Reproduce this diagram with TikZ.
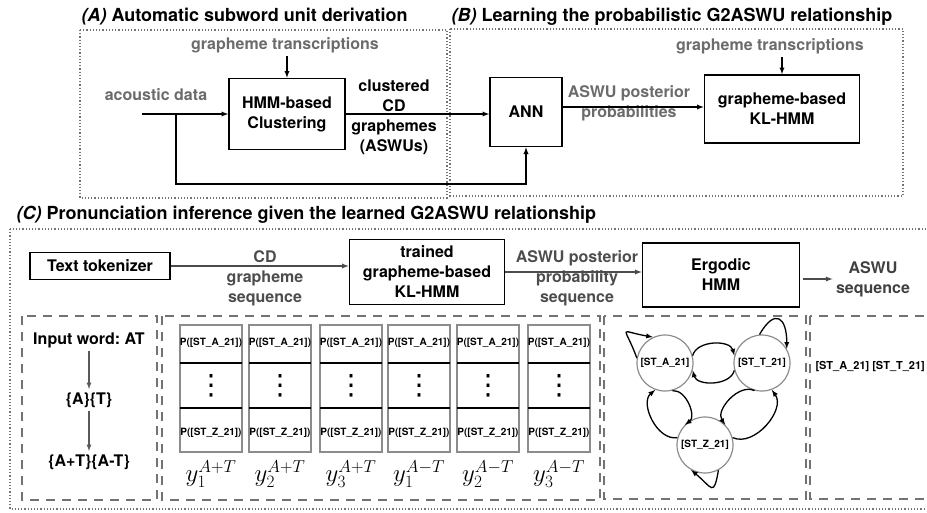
\documentclass[tikz,border=0pt]{standalone}
\usepackage{fontspec}
\setmainfont{TeX Gyre Heros}
\newfontfamily\dotsfont{DejaVu Sans}
\usetikzlibrary{arrows}
\usetikzlibrary{positioning}
\frenchspacing

\newcommand\txtbig{\fontsize{16}{20}\selectfont\bfseries}
\newcommand\txttitle{\fontsize{18}{22}\selectfont\bfseries}
\newcommand\txtsmall{\fontsize{10}{12}\selectfont\bfseries}
\definecolor{labgray}{gray}{0.42}
\definecolor{framegray}{gray}{0.45}

\begin{document}
\begin{tikzpicture}[x=1pt, y=-1pt, >=latex,
	blk/.style={draw, line width=1.6pt, font=\txtbig, align=center, inner sep=0pt},
	lab/.style={font=\txtbig, align=center, text=labgray},
	conn/.style={->, line width=1.3pt},
	dotbox/.style={draw=framegray, dotted, line width=1.2pt},
	dashbox/.style={draw=framegray, dash pattern=on 9pt off 7pt, line width=1.2pt},
	colbox/.style={draw=black!45, line width=1.2pt},
	hmmstate/.style={circle, draw=black!45, line width=1.2pt, minimum size=56pt, inner sep=0pt, font=\txtsmall}
]
	\useasboundingbox (0,0) rectangle (927,512);

	% (A) subword unit derivation
	\node[anchor=west, font=\txttitle] (ttla) at (78,17) {\textit{(A)} Automatic subword unit derivation};
	\draw[dotbox] (80,30) rectangle (447,198);
	\node[blk, minimum width=116pt, minimum height=71pt] (hmm) at (287,114) {HMM-based\\Clustering};
	\node[lab] (gta) at (285,45) {grapheme transcriptions};
	\draw[conn] (gta.south -| hmm.north) -- (hmm.north);
	\node[lab] (acd) at (156,95) {acoustic data};
	\coordinate (acin) at (142,114);
	\coordinate (split) at (176,114);
	\draw[conn] (acin) -- (hmm.west);
	\node[font=\txtbig, align=center] (clus) at (394,117) {clustered\\CD\\graphemes\\(ASWUs)};

	% (B) G2ASWU relationship
	\node[anchor=west, font=\txttitle] (ttlb) at (448,17) {\textit{(B)} Learning the probabilistic G2ASWU relationship};
	\draw[dotbox] (450,29) rectangle (903,196);
	\node[blk, minimum width=72pt, minimum height=69pt] (ann) at (526,112) {ANN};
	\node[blk, minimum width=155pt, minimum height=68pt] (kl) at (782,109) {grapheme-based\\KL-HMM};
	\node[lab] (gtb) at (770,46) {grapheme transcriptions};
	\draw[conn] (gtb.south -| kl.north) -- (kl.north);
	\node[lab] (post) at (629,103) {ASWU posterior\\probabilities};
	\draw[conn] (hmm.east) -- (hmm.east -| ann.west);
	\draw[conn] (split) -- ++(0,70) -| (ann.south);
	\draw[conn] ([yshift=5pt]ann.east) -- ([yshift=5pt]ann.east -| kl.west);

	% (C) pronunciation inference
	\node[anchor=west, font=\txttitle] (ttlc) at (13,215) {\textit{(C)} Pronunciation inference given the learned G2ASWU relationship};
	\draw[dotbox] (10,229) rectangle (940,509);
	\node[blk, minimum width=140pt, minimum height=27pt] (tok) at (100,266) {Text tokenizer};
	\node[blk, minimum width=155pt, minimum height=65pt] (trn) at (427,272) {trained\\grapheme-based\\KL-HMM};
	\node[blk, minimum width=157pt, minimum height=64pt] (erg) at (721,275) {Ergodic\\HMM};
	\node[lab, text=black!70] (cdg) at (265,278) {CD\\grapheme\\sequence};
	\node[lab, text=black!70] (pps) at (577,278) {ASWU posterior\\probability\\sequence};
	\node[font=\txtbig, align=center, text=black!75] (aswu) at (873,279) {ASWU\\sequence};
	\coordinate (ergout) at (803,279);
	\draw[conn, black!70] (tok.east) -- (tok.east -| trn.west);
	\draw[conn, black!70] (trn.east) -- (trn.east -| erg.west);
	\draw[conn, black!70] (ergout) -- (aswu.west);

	\draw[dashbox] (22,316) rectangle (157,500);
	\draw[dashbox] (162,316) rectangle (600,500);
	\draw[dashbox] (604,316) rectangle (806,499);
	\draw[dashbox] (810,316) rectangle (940,499);

	\node[font=\txtbig] (iw) at (89,340) {Input word: AT};
	\node[font=\txtbig] (ab) at (89,400) {\{A\}\{T\}};
	\node[font=\txtbig] (apt) at (89,462) {\{A+T\}\{A-T\}};
	\draw[conn, black!65, line width=1.2pt] (iw) -- (ab);
	\draw[conn, black!65, line width=1.2pt] (ab) -- (apt);

	\foreach \cx/\n/\gl [count=\k] in {211/1/{A+T},280/2/{A+T},351/3/{A+T},419/1/{A-T},488/2/{A-T},559/3/{A-T}} {
		\draw[colbox] (\cx-31,325) rectangle (\cx+31,452);
		\draw[line width=1.2pt] (\cx-31,363) -- (\cx+31,363) (\cx-31,408) -- (\cx+31,408);
		\node[font=\txtsmall] (pa\k) at (\cx,343) {P([ST\_A\_21])};
		\node[font=\fontsize{28}{28}\selectfont\dotsfont, inner sep=0pt] (pd\k) at (\cx,386) {⋮};
		\node[font=\txtsmall] (pz\k) at (\cx,433) {P([ST\_Z\_21])};
		\node[font=\fontsize{23}{25}\selectfont, inner sep=0pt] (y\k) at (\cx,474) {$y_{\n}^{\gl}$};
	}

	% ergodic HMM states
	\node[hmmstate] (sa) at (665,363) {[ST\_A\_21]};
	\node[hmmstate] (st) at (762,363) {[ST\_T\_21]};
	\node[hmmstate] (sz) at (705,445) {[ST\_Z\_21]};
	\begin{scope}[line width=1.5pt]
	\draw[conn] (sa.15) to[bend left=75] (st.165);
	\draw[conn] (st.195) to[bend left=75] (sa.-15);
	\draw[conn] (sa.-75) to[bend left=75] (sz.135);
	\draw[conn] (sz.165) to[bend left=75] (sa.-110);
	\draw[conn] (sz.15) to[bend right=75] (st.-70);
	\draw[conn] (st.-105) to[bend right=75] (sz.45);
	\draw[conn] (sa.170) to[out=110, in=170, looseness=3.5] (sa.115);
	\draw[conn] (st.95) to[out=60, in=90, looseness=2.6] (st.30);
	\draw[conn] (sz.-62) to[out=-100, in=-40, looseness=2.6] (sz.-119);
	\end{scope}

	\node[font=\fontsize{11}{13}\selectfont\bfseries, anchor=west] (seq) at (812,367) {[ST\_A\_21] [ST\_T\_21]};
\end{tikzpicture}
\end{document}
